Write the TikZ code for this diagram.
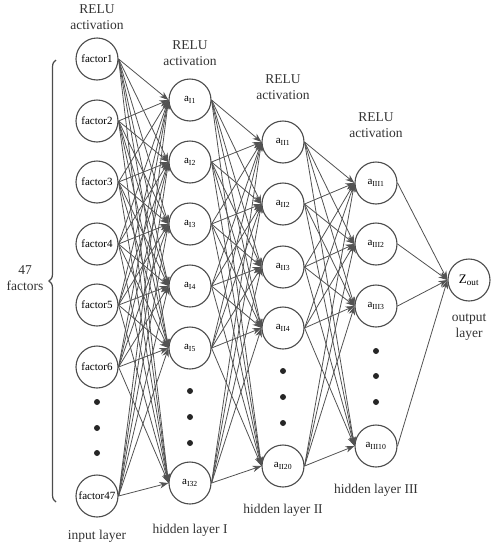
\documentclass[tikz,border=0pt]{standalone}
\usepackage{fontspec}
\setmainfont{Liberation Serif}
\usetikzlibrary{arrows, arrows.meta, positioning, decorations.pathreplacing}
\tikzset{>={Stealth[length=9pt,width=6.5pt]}}

\begin{document}
\begin{tikzpicture}[x=1pt, y=-1pt,
	neuron/.style={circle, draw=black!70, fill=white, line width=1.1pt, minimum size=42pt, inner sep=0pt, font=\fontsize{11}{12}\selectfont},
	link/.style={->, draw=black!68, line width=0.8pt},
	dotnode/.style={circle, fill=black!85, minimum size=6pt, inner sep=0pt},
	lbl/.style={align=center, text=black!80, font=\fontsize{13.5}{16}\selectfont}]

		\useasboundingbox (0,0) rectangle (492,544);

		% input layer
		\node[neuron] (F1) at (97,59) {factor1};
		\node[neuron] (F2) at (97,121) {factor2};
		\node[neuron] (F3) at (97,182) {factor3};
		\node[neuron] (F4) at (97,244) {factor4};
		\node[neuron] (F5) at (97,305) {factor5};
		\node[neuron] (F6) at (97,367) {factor6};
		\node[neuron] (F47) at (97,496) {factor47};
		\node[dotnode] (Fd1) at (97,402) {};
		\node[dotnode] (Fd2) at (97,428) {};
		\node[dotnode] (Fd3) at (97,453) {};

		% hidden layer I
		\node[neuron] (A1) at (190,100) {a\textsubscript{I1}};
		\node[neuron] (A2) at (190,162) {a\textsubscript{I2}};
		\node[neuron] (A3) at (190,224) {a\textsubscript{I3}};
		\node[neuron] (A4) at (190,286) {a\textsubscript{I4}};
		\node[neuron] (A5) at (190,348) {a\textsubscript{I5}};
		\node[neuron] (A32) at (190,483) {a\textsubscript{I32}};
		\node[dotnode] (Ad1) at (190,391) {};
		\node[dotnode] (Ad2) at (190,417) {};
		\node[dotnode] (Ad3) at (190,443) {};

		% hidden layer II
		\node[neuron] (B1) at (283,142) {a\textsubscript{II1}};
		\node[neuron] (B2) at (283,204) {a\textsubscript{II2}};
		\node[neuron] (B3) at (283,267) {a\textsubscript{II3}};
		\node[neuron] (B4) at (283,328) {a\textsubscript{II4}};
		\node[neuron] (B20) at (283,466) {a\textsubscript{II20}};
		\node[dotnode] (Bd1) at (283,371) {};
		\node[dotnode] (Bd2) at (283,397) {};
		\node[dotnode] (Bd3) at (283,423) {};

		% hidden layer III
		\node[neuron] (C1) at (376,183) {a\textsubscript{III1}};
		\node[neuron] (C2) at (376,244) {a\textsubscript{III2}};
		\node[neuron] (C3) at (376,306) {a\textsubscript{III3}};
		\node[neuron] (C10) at (376,446) {a\textsubscript{III10}};
		\node[dotnode] (Cd1) at (376,351) {};
		\node[dotnode] (Cd2) at (376,376) {};
		\node[dotnode] (Cd3) at (376,402) {};

		% output layer
		\node[neuron, font=\fontsize{13}{14}\selectfont] (Z) at (469,280) {Z\textsubscript{out}};

		% connections, east side to west side
		\foreach \i in {1,2,3,4,5,6,47}
			\foreach \j in {1,2,3,4,5,32}
				\draw[link] (F\i.east) -- (A\j.west);
		\foreach \i in {1,2,3,4,5,32}
			\foreach \j in {1,2,3,4,20}
				\draw[link] (A\i.east) -- (B\j.west);
		\foreach \i in {1,2,3,4,20}
			\foreach \j in {1,2,3,10}
				\draw[link] (B\i.east) -- (C\j.west);
		\foreach \i in {1,2,3,10}
			\draw[link] (C\i.east) -- (Z.west);

		% labels
		\node[lbl] (R0) at (97,17) {RELU\\activation};
		\node[lbl] (R1) at (190,53) {RELU\\activation};
		\node[lbl] (R2) at (283,87) {RELU\\activation};
		\node[lbl] (R3) at (376,125) {RELU\\activation};
		\node[lbl] (L0) at (97,536) {input layer};
		\node[lbl] (L1) at (190,530) {hidden layer I};
		\node[lbl] (L2) at (283,510) {hidden layer II};
		\node[lbl] (L3) at (376,490) {hidden layer III};
		\node[lbl] (L4) at (469,327) {output\\layer};

		% brace
		\draw[draw=black!70, line width=1.2pt, decorate, decoration={brace, amplitude=7pt}] (56,502) -- (56,60);
		\node[lbl] (N) at (25,278) {47\\factors};

\end{tikzpicture}
\end{document}
